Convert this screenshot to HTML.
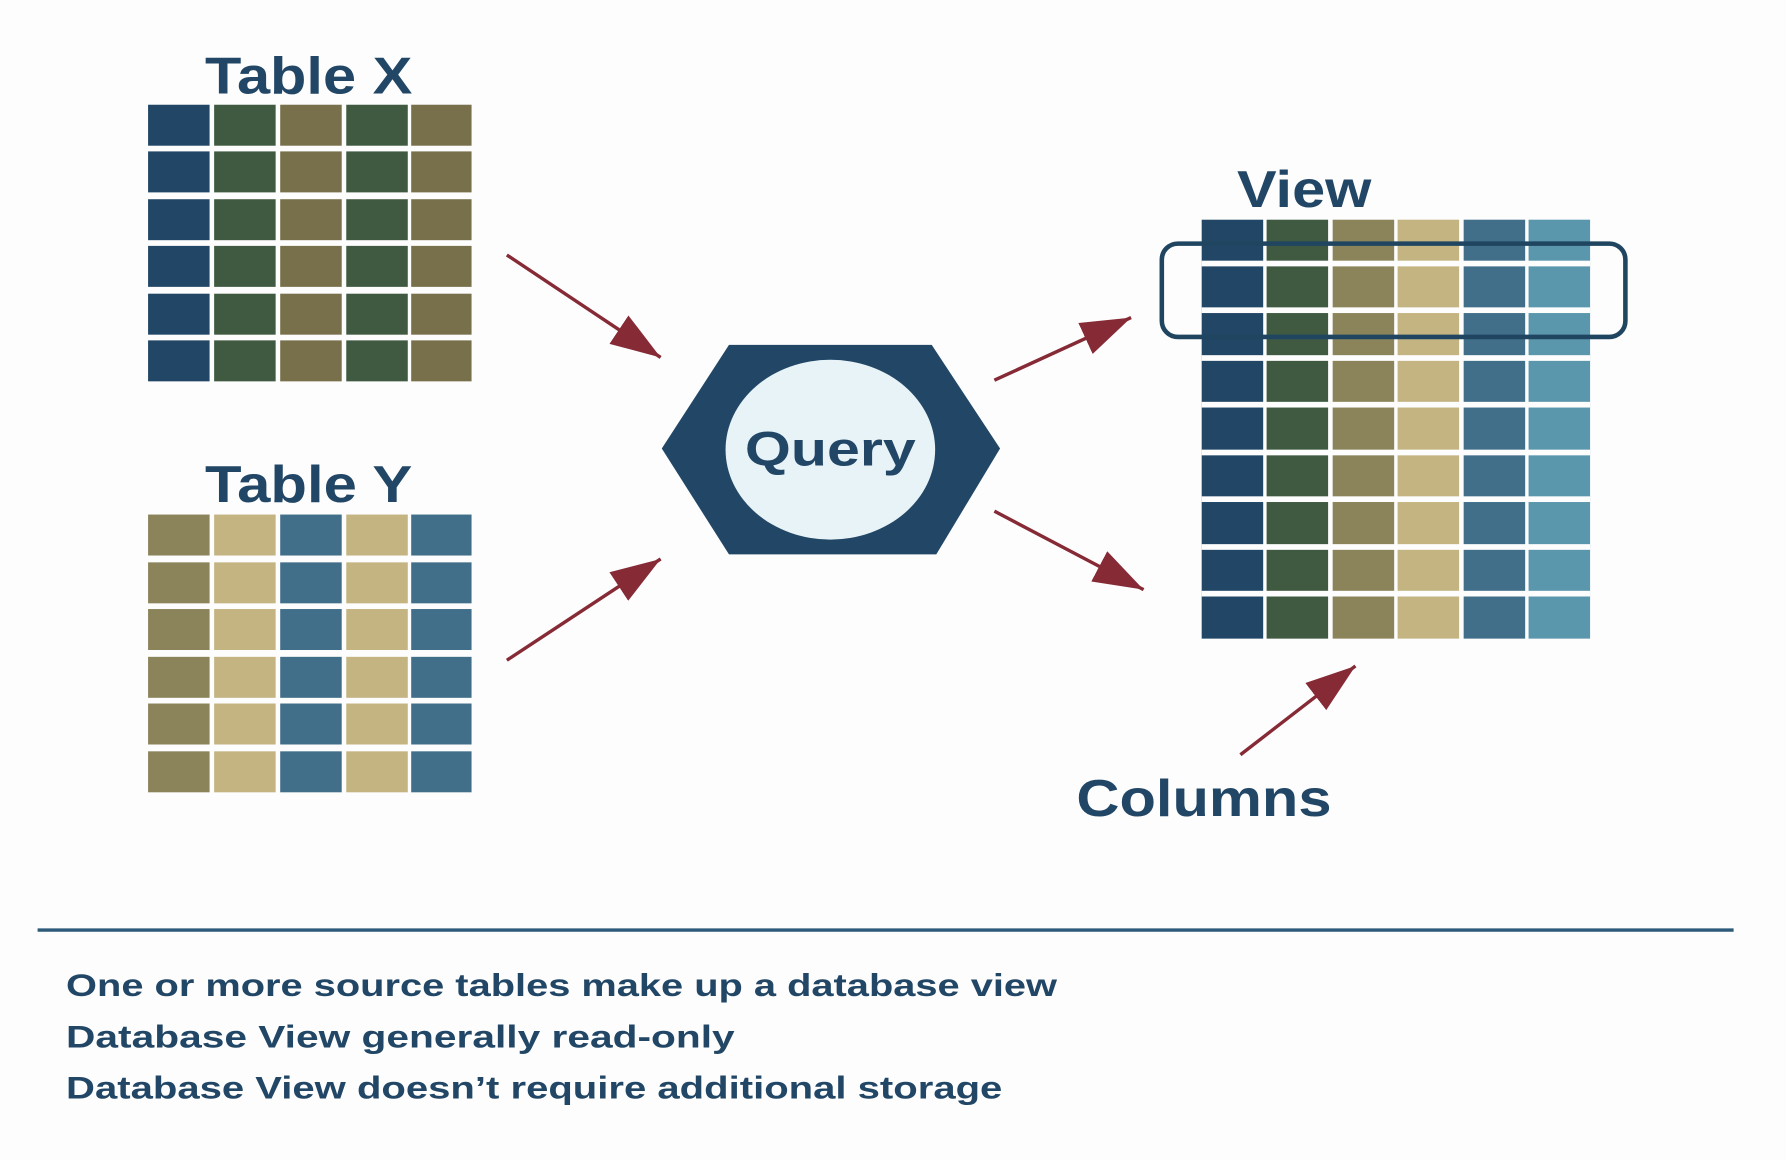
<!DOCTYPE html>
<html><head><meta charset="utf-8"><style>
html,body{margin:0;padding:0;background:#fdfdfd;}
svg{display:block;}
</style></head><body>
<svg width="1786" height="1160" viewBox="0 0 1568 1019" preserveAspectRatio="none" xmlns="http://www.w3.org/2000/svg">
<defs>
<marker id="ah" markerUnits="userSpaceOnUse" markerWidth="46" markerHeight="36" refX="44" refY="18" orient="auto">
<polygon points="0,3 44,18 0,33" fill="#862a36"/>
</marker>
</defs>
<rect width="1568" height="1019" fill="#fdfdfd"/>
<g font-family="Liberation Sans, sans-serif" font-weight="bold" fill="#224766">
<text x="271" y="82" font-size="46" text-anchor="middle" textLength="182" lengthAdjust="spacingAndGlyphs">Table X</text>
<text x="271" y="441" font-size="46" text-anchor="middle" textLength="182" lengthAdjust="spacingAndGlyphs">Table Y</text>
<text x="1145" y="182" font-size="46" text-anchor="middle" textLength="118" lengthAdjust="spacingAndGlyphs">View</text>
<text x="1057" y="717" font-size="46" text-anchor="middle" textLength="224" lengthAdjust="spacingAndGlyphs">Columns</text>
</g>
<g id="tx"></g>
<!-- Table X -->
<g>
<script type="text/javascript"><![CDATA[]]></script>
</g>
<g id="grids"></g>
<!-- highlight -->
<!-- hexagon -->
<polygon points="640,303 818,303 878,394 822,487 640,487 581,394" fill="#224766"/>
<ellipse cx="729" cy="395" rx="92" ry="79" fill="#e8f3f7"/>
<text x="729" y="409" font-family="Liberation Sans, sans-serif" font-weight="bold" font-size="42" fill="#224766" text-anchor="middle" textLength="150" lengthAdjust="spacingAndGlyphs">Query</text>
<g stroke="#862a36" stroke-width="3" marker-end="url(#ah)">
<line x1="445" y1="224" x2="580" y2="314"/>
<line x1="445" y1="580" x2="580" y2="491"/>
<line x1="873" y1="334" x2="993" y2="279"/>
<line x1="873" y1="449" x2="1004" y2="518"/>
<line x1="1089" y1="663" x2="1190" y2="585"/>
</g>
<line x1="33" y1="817" x2="1522" y2="817" stroke="#2d5a78" stroke-width="3"/>
<g font-family="Liberation Sans, sans-serif" font-weight="bold" font-size="28" fill="#224766">
<text x="58" y="875" textLength="870" lengthAdjust="spacingAndGlyphs">One or more source tables make up a database view</text>
<text x="58" y="920" textLength="587" lengthAdjust="spacingAndGlyphs">Database View generally read-only</text>
<text x="58" y="965" textLength="822" lengthAdjust="spacingAndGlyphs">Database View doesn’t require additional storage</text>
</g>
<!-- grids drawn statically -->
<g>
<!-- Table X rows -->
<g fill="#224766"><rect x="130" y="92" width="54" height="36"/><rect x="130" y="133" width="54" height="36"/><rect x="130" y="175" width="54" height="36"/><rect x="130" y="216" width="54" height="36"/><rect x="130" y="258" width="54" height="36"/><rect x="130" y="299" width="54" height="36"/></g>
<g fill="#3f5a40"><rect x="188" y="92" width="54" height="36"/><rect x="188" y="133" width="54" height="36"/><rect x="188" y="175" width="54" height="36"/><rect x="188" y="216" width="54" height="36"/><rect x="188" y="258" width="54" height="36"/><rect x="188" y="299" width="54" height="36"/>
<rect x="304" y="92" width="54" height="36"/><rect x="304" y="133" width="54" height="36"/><rect x="304" y="175" width="54" height="36"/><rect x="304" y="216" width="54" height="36"/><rect x="304" y="258" width="54" height="36"/><rect x="304" y="299" width="54" height="36"/></g>
<g fill="#77704b"><rect x="246" y="92" width="54" height="36"/><rect x="246" y="133" width="54" height="36"/><rect x="246" y="175" width="54" height="36"/><rect x="246" y="216" width="54" height="36"/><rect x="246" y="258" width="54" height="36"/><rect x="246" y="299" width="54" height="36"/>
<rect x="361" y="92" width="53" height="36"/><rect x="361" y="133" width="53" height="36"/><rect x="361" y="175" width="53" height="36"/><rect x="361" y="216" width="53" height="36"/><rect x="361" y="258" width="53" height="36"/><rect x="361" y="299" width="53" height="36"/></g>
<!-- Table Y -->
<g fill="#8b845b"><rect x="130" y="452" width="54" height="36"/><rect x="130" y="494" width="54" height="36"/><rect x="130" y="535" width="54" height="36"/><rect x="130" y="577" width="54" height="36"/><rect x="130" y="618" width="54" height="36"/><rect x="130" y="660" width="54" height="36"/></g>
<g fill="#c4b482"><rect x="188" y="452" width="54" height="36"/><rect x="188" y="494" width="54" height="36"/><rect x="188" y="535" width="54" height="36"/><rect x="188" y="577" width="54" height="36"/><rect x="188" y="618" width="54" height="36"/><rect x="188" y="660" width="54" height="36"/>
<rect x="304" y="452" width="54" height="36"/><rect x="304" y="494" width="54" height="36"/><rect x="304" y="535" width="54" height="36"/><rect x="304" y="577" width="54" height="36"/><rect x="304" y="618" width="54" height="36"/><rect x="304" y="660" width="54" height="36"/></g>
<g fill="#416f89"><rect x="246" y="452" width="54" height="36"/><rect x="246" y="494" width="54" height="36"/><rect x="246" y="535" width="54" height="36"/><rect x="246" y="577" width="54" height="36"/><rect x="246" y="618" width="54" height="36"/><rect x="246" y="660" width="54" height="36"/>
<rect x="361" y="452" width="53" height="36"/><rect x="361" y="494" width="53" height="36"/><rect x="361" y="535" width="53" height="36"/><rect x="361" y="577" width="53" height="36"/><rect x="361" y="618" width="53" height="36"/><rect x="361" y="660" width="53" height="36"/></g>
</g>
<!-- View columns -->
<g>
<rect x="1055" y="193" width="54" height="368" fill="#224766"/>
<rect x="1112" y="193" width="54" height="368" fill="#3f5a40"/>
<rect x="1170" y="193" width="54" height="368" fill="#8b845b"/>
<rect x="1227" y="193" width="54" height="368" fill="#c4b482"/>
<rect x="1285" y="193" width="54" height="368" fill="#416f89"/>
<rect x="1342" y="193" width="54" height="368" fill="#5a97ad"/>
<g fill="#fdfdfd">
<rect x="1055" y="229" width="341" height="5"/><rect x="1055" y="270" width="341" height="5"/><rect x="1055" y="312" width="341" height="5"/><rect x="1055" y="353" width="341" height="5"/><rect x="1055" y="395" width="341" height="5"/><rect x="1055" y="436" width="341" height="5"/><rect x="1055" y="478" width="341" height="5"/><rect x="1055" y="519" width="341" height="5"/>
</g>
</g>
<rect x="1020" y="214" width="407" height="82" rx="14" fill="none" stroke="#1f4560" stroke-width="4"/>
</svg>
</body></html>
